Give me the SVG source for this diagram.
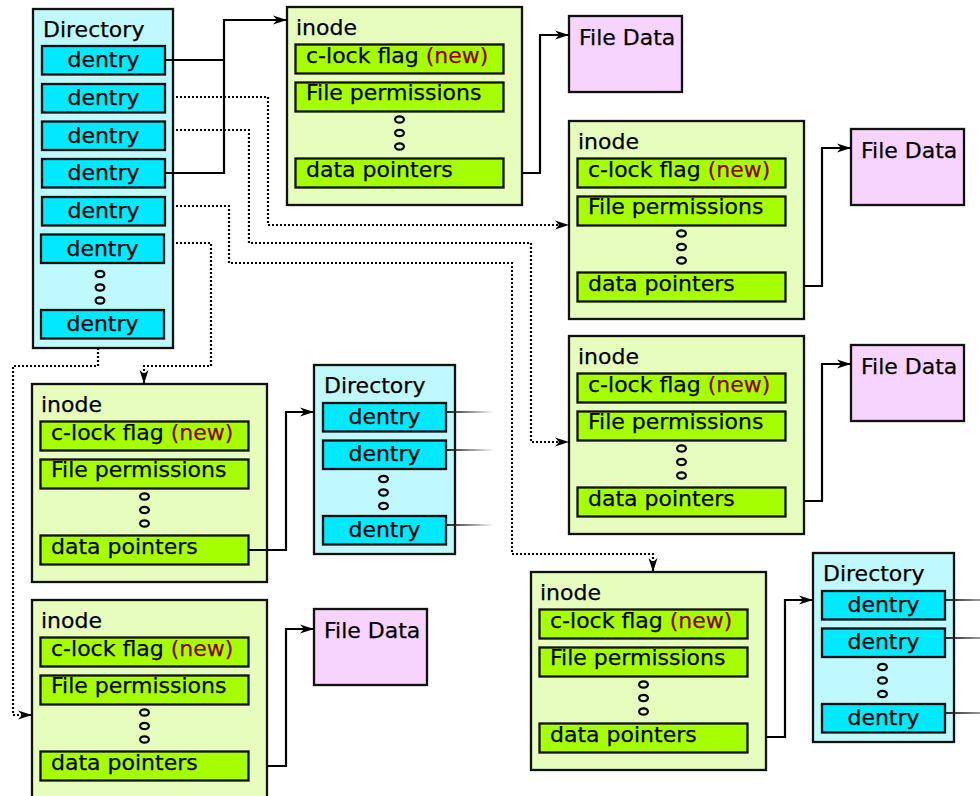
<svg xmlns="http://www.w3.org/2000/svg" width="980" height="796" viewBox="0 0 980 796">
  <defs>
    <style>
      .dir { fill: #c0f9fd; stroke: #111; stroke-width: 2.3; }
      .den { fill: #00e9ff; stroke: #111; stroke-width: 2.3; }
      .ino { fill: #e6fdbe; stroke: #111; stroke-width: 2.3; }
      .fld { fill: #a6ff00; stroke: #111; stroke-width: 2.3; }
      .fd  { fill: #f7d4fe; stroke: #111; stroke-width: 2.3; }
      .dot { fill: none; stroke: #000; stroke-width: 2.2; }
      .t   { font-family: "DejaVu Sans", "Liberation Sans", sans-serif; font-size: 22px; fill: #000; stroke: #000; stroke-width: 0.25; }
      .c   { text-anchor: middle; }
      .new { fill: #8b0000; stroke: #8b0000; }
      .wire { fill: none; stroke: #000; stroke-width: 2.2; }
      .dash { stroke-dasharray: 2 2; }
      .fade { fill: none; stroke-width: 2.2; }
    </style>
    <marker id="arr" markerUnits="userSpaceOnUse" markerWidth="15" markerHeight="11" refX="14" refY="5.5" orient="auto">
      <path d="M0,1 L14,5.5 L0,10 L4,5.5 z" fill="#000"/>
    </marker>
    <linearGradient id="fadeA" gradientUnits="userSpaceOnUse" x1="446" y1="0" x2="494" y2="0">
      <stop offset="0" stop-color="#222" stop-opacity="1"/>
      <stop offset="1" stop-color="#222" stop-opacity="0"/>
    </linearGradient>
    <linearGradient id="fadeB" gradientUnits="userSpaceOnUse" x1="945" y1="0" x2="1010" y2="0">
      <stop offset="0" stop-color="#222" stop-opacity="1"/>
      <stop offset="1" stop-color="#222" stop-opacity="0"/>
    </linearGradient>
    <!-- reusable inode record -->
    <g id="inodeBody">
      <rect class="ino" x="0" y="0" width="235" height="198"/>
      <text class="t" x="9" y="28">inode</text>
      <rect class="fld" x="8.5" y="37.5" width="208" height="29"/>
      <text class="t" x="19" y="56">c-lock flag <tspan class="new">(new)</tspan></text>
      <rect class="fld" x="8.5" y="75.5" width="208" height="29"/>
      <text class="t" x="19" y="93">File permissions</text>
      <ellipse class="dot" cx="112.5" cy="112.5" rx="4.4" ry="3.2"/>
      <ellipse class="dot" cx="112.5" cy="126" rx="4.4" ry="3.2"/>
      <ellipse class="dot" cx="112.5" cy="139.5" rx="4.4" ry="3.2"/>
      <rect class="fld" x="8.5" y="151.5" width="208" height="29"/>
      <text class="t" x="19" y="170">data pointers</text>
    </g>
    <!-- reusable small directory -->
    <g id="dirBody">
      <rect class="dir" x="0" y="0" width="141" height="189"/>
      <text class="t" x="10" y="28">Directory</text>
      <rect class="den" x="9" y="38" width="123" height="28.5"/>
      <text class="t c" x="70.5" y="58.5">dentry</text>
      <rect class="den" x="9" y="75.5" width="123" height="28.5"/>
      <text class="t c" x="70.5" y="96">dentry</text>
      <ellipse class="dot" cx="69.5" cy="114" rx="4.4" ry="3.2"/>
      <ellipse class="dot" cx="69.5" cy="127.5" rx="4.4" ry="3.2"/>
      <ellipse class="dot" cx="69.5" cy="141" rx="4.4" ry="3.2"/>
      <rect class="den" x="9" y="151" width="123" height="28.5"/>
      <text class="t c" x="70.5" y="171.5">dentry</text>
    </g>
    <g id="fileData">
      <rect class="fd" x="0" y="0" width="113" height="76"/>
      <text class="t" x="10" y="29">File Data</text>
    </g>
  </defs>

  <!-- root directory -->
  <g id="dir-root">
    <rect class="dir" x="33" y="9" width="140" height="339"/>
    <text class="t" x="43" y="37">Directory</text>
    <rect class="den" x="42" y="46" width="123" height="28.5"/>
    <text class="t c" x="103.5" y="67">dentry</text>
    <rect class="den" x="42" y="84" width="123" height="28.5"/>
    <text class="t c" x="103.5" y="105">dentry</text>
    <rect class="den" x="42" y="121.5" width="123" height="28.5"/>
    <text class="t c" x="103.5" y="142.5">dentry</text>
    <rect class="den" x="42" y="159" width="123" height="28.5"/>
    <text class="t c" x="103.5" y="180">dentry</text>
    <rect class="den" x="42" y="197" width="123" height="28.5"/>
    <text class="t c" x="103.5" y="218">dentry</text>
    <rect class="den" x="41" y="234.5" width="123" height="28.5"/>
    <text class="t c" x="102.5" y="255.5">dentry</text>
    <ellipse class="dot" cx="100" cy="274" rx="4.4" ry="3.2"/>
    <ellipse class="dot" cx="100" cy="287.5" rx="4.4" ry="3.2"/>
    <ellipse class="dot" cx="100" cy="300.5" rx="4.4" ry="3.2"/>
    <rect class="den" x="41" y="310" width="123" height="28.5"/>
    <text class="t c" x="102.5" y="331">dentry</text>
  </g>

  <g id="inode-1"><use href="#inodeBody" transform="translate(287,7)"/></g>
  <g id="inode-2"><use href="#inodeBody" transform="translate(569,121)"/></g>
  <g id="inode-3"><use href="#inodeBody" transform="translate(569,336)"/></g>
  <g id="inode-4"><use href="#inodeBody" transform="translate(531,572)"/></g>
  <g id="inode-5"><use href="#inodeBody" transform="translate(32,384)"/></g>
  <g id="inode-6"><use href="#inodeBody" transform="translate(32,600)"/></g>

  <g id="dir-sub-1"><use href="#dirBody" transform="translate(314,365)"/></g>
  <g id="dir-sub-2"><use href="#dirBody" transform="translate(813,553)"/></g>

  <g id="file-data-1"><use href="#fileData" transform="translate(569,16)"/></g>
  <g id="file-data-2"><use href="#fileData" transform="translate(851,129)"/></g>
  <g id="file-data-3"><use href="#fileData" transform="translate(851,345)"/></g>
  <g id="file-data-4"><use href="#fileData" transform="translate(314,609)"/></g>

  <g id="connectors">
    <!-- hard links: two dentries share inode 1 -->
    <path class="wire" d="M165,60 H224"/>
    <path class="wire" d="M165,173 H224 V20 H287" marker-end="url(#arr)"/>
    <!-- data pointers to contents -->
    <path class="wire" d="M522,173 H540 V35 H569" marker-end="url(#arr)"/>
    <path class="wire" d="M804,286 H822 V148 H851" marker-end="url(#arr)"/>
    <path class="wire" d="M804,501 H822 V364 H851" marker-end="url(#arr)"/>
    <path class="wire" d="M766,737 H785 V600 H813" marker-end="url(#arr)"/>
    <path class="wire" d="M248,550 H286 V412 H314" marker-end="url(#arr)"/>
    <path class="wire" d="M267,766 H286 V629 H314" marker-end="url(#arr)"/>
    <!-- dentry to inode references -->
    <path class="wire dash" d="M176,97 H268 V225 H569" marker-end="url(#arr)"/>
    <path class="wire dash" d="M176,130 H249 V243 H531 V442 H569" marker-end="url(#arr)"/>
    <path class="wire dash" d="M176,206 H229 V263 H512 V554 H653 V572" marker-end="url(#arr)"/>
    <path class="wire dash" d="M176,243 H211 V366 H144 V384" marker-end="url(#arr)"/>
    <path class="wire dash" d="M98,348 V366 H13 V715 H32" marker-end="url(#arr)"/>
    <!-- outgoing dentry links of sub-directories -->
    <path class="fade" stroke="url(#fadeA)" d="M446,412 H494 M446,450 H494 M446,525 H494"/>
    <path class="fade" stroke="url(#fadeB)" d="M945,600 H980 M945,638 H980 M945,713 H980"/>
  </g>
</svg>
